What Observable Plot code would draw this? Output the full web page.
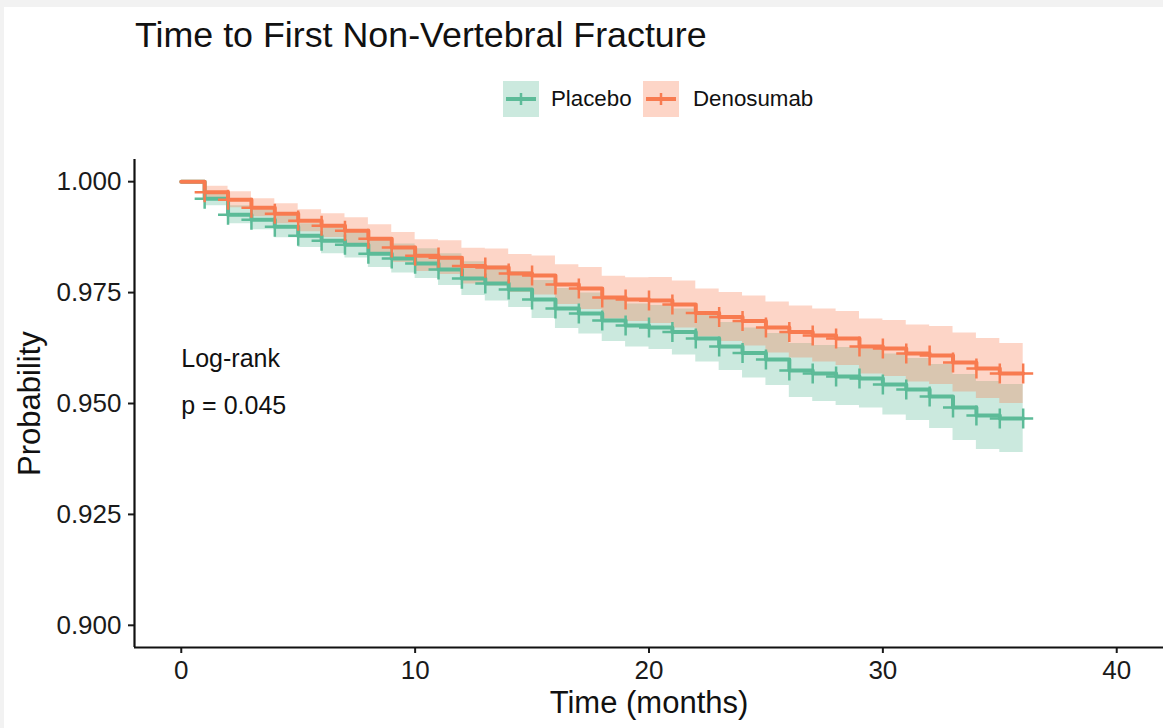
<!DOCTYPE html>
<html>
<head>
<meta charset="utf-8">
<script src="https://cdn.jsdelivr.net/npm/d3@7"></script>
<script src="https://cdn.jsdelivr.net/npm/@observablehq/plot@0.6"></script>
<style>
  html, body { margin:0; padding:0; background:#f2f2f2; width:1163px; height:728px; overflow:hidden;
    font-family:"Liberation Sans", Arial, Helvetica, sans-serif; }
  #panel { position:absolute; left:4px; top:7px; width:1159px; height:721px; background:#fff; }
  #title { position:absolute; left:135px; top:17px; font-size:35.8px; line-height:36px; color:#111; white-space:nowrap; }
  .key { position:absolute; top:81px; width:36px; height:36px; }
  .lab { position:absolute; top:81px; height:36px; line-height:36px; font-size:22.3px; color:#111; white-space:nowrap; }
  #chart { position:absolute; left:0; top:130px; }
</style>
</head>
<body>
<div id="panel"></div>
<div id="title"></div>
<div id="legend"></div>
<div id="chart"></div>
<script>
// ---------------- data ----------------
const titleText = "Time to First Non-Vertebral Fracture";
const groups = ["Placebo", "Denosumab"];
const groupColors = ["#5cbb98", "#f87b50"];
const xTicks = [0, 10, 20, 30, 40];
const yTicks = [0.900, 0.925, 0.950, 0.975, 1.000];
const xLabel = "Time (months)";
const yLabel = "Probability";

const months = [0,1,2,3,4,5,6,7,8,9,10,11,12,13,14,15,16,17,18,19,20,21,22,23,24,25,26,27,28,29,30,31,32,33,34,35,36];

const placeboSurv = [1.00000,0.99617,0.99257,0.99144,0.98986,0.98784,0.98671,0.98581,0.98378,0.98266,
  0.98153,0.98018,0.97815,0.97703,0.97568,0.97342,0.97140,0.97027,0.96869,0.96757,
  0.96712,0.96610,0.96464,0.96284,0.96137,0.95991,0.95743,0.95676,0.95608,0.95563,
  0.95428,0.95315,0.95158,0.94910,0.94730,0.94662,0.94662];
const placeboUpper = [1.00000,0.99775,0.99460,0.99369,0.99234,0.99054,0.98964,0.98885,0.98693,0.98593,
  0.98491,0.98378,0.98198,0.98097,0.97973,0.97770,0.97590,0.97489,0.97342,0.97241,
  0.97207,0.97128,0.96993,0.96825,0.96700,0.96577,0.96351,0.96307,0.96261,0.96227,
  0.96115,0.96013,0.95879,0.95653,0.95496,0.95428,0.95428];
const placeboLower = [1.00000,0.99459,0.99054,0.98919,0.98738,0.98514,0.98378,0.98277,0.98063,0.97939,
  0.97815,0.97658,0.97432,0.97309,0.97163,0.96914,0.96690,0.96565,0.96396,0.96273,
  0.96217,0.96092,0.95935,0.95743,0.95574,0.95405,0.95135,0.95045,0.94955,0.94899,
  0.94741,0.94617,0.94437,0.94167,0.93964,0.93896,0.93896];

const denosumabSurv = [1.00000,0.99764,0.99595,0.99414,0.99279,0.99122,0.99009,0.98896,0.98716,0.98514,
  0.98333,0.98288,0.98097,0.98063,0.97928,0.97883,0.97680,0.97590,0.97387,0.97342,
  0.97320,0.97230,0.97038,0.96948,0.96858,0.96712,0.96610,0.96532,0.96464,0.96284,
  0.96239,0.96126,0.96081,0.95923,0.95788,0.95676,0.95676];
const denosumabUpper = [1.00000,0.99899,0.99775,0.99617,0.99504,0.99370,0.99279,0.99189,0.99031,0.98852,
  0.98693,0.98671,0.98502,0.98480,0.98356,0.98322,0.98130,0.98063,0.97871,0.97837,
  0.97838,0.97759,0.97579,0.97500,0.97421,0.97286,0.97196,0.97129,0.97072,0.96903,
  0.96870,0.96768,0.96734,0.96587,0.96464,0.96352,0.96352];
const denosumabLower = [1.00000,0.99629,0.99415,0.99211,0.99054,0.98874,0.98739,0.98603,0.98401,0.98176,
  0.97973,0.97905,0.97692,0.97646,0.97500,0.97444,0.97230,0.97117,0.96903,0.96847,
  0.96802,0.96701,0.96497,0.96396,0.96295,0.96138,0.96024,0.95935,0.95856,0.95665,
  0.95608,0.95484,0.95428,0.95259,0.95112,0.95000,0.95000];

const placeboCensor = [1,2,3,4,5,6,7,8,9,10,11,12,13,14,15,16,17,18,19,20,21,22,23,24,25,26,27,28,29,30,31,32,33,34,35,36];
const denosumabCensor = [1,2,3,4,5,6,7,8,9,10,11,12,13,14,15,16,17,18,19,20,21,22,23,24,25,26,27,28,29,30,31,32,33,34,35,36];

const annoLabels = ["Log-rank", "p = 0.045"];
const annoX = [0, 0];
const annoY = [0.9601, 0.9495];

// ---------------- build tables ----------------
const survRows = [];
const series = [
  [groups[0], placeboSurv, placeboLower, placeboUpper, placeboCensor],
  [groups[1], denosumabSurv, denosumabLower, denosumabUpper, denosumabCensor]
];
const censorRows = [];
for (const [g, s, lo, hi, cens] of series) {
  months.forEach((t, i) => survRows.push({group: g, t, s: s[i], lo: lo[i], hi: hi[i]}));
  cens.forEach(t => censorRows.push({group: g, t, s: s[months.indexOf(t)]}));
}
const annos = annoLabels.map((label, i) => ({label, x: annoX[i], y: annoY[i]}));

// ---------------- title & legend ----------------
document.getElementById("title").textContent = titleText;
const legend = document.getElementById("legend");
const keyLefts = [503, 643];
const labLefts = [551, 693];
groups.forEach((g, i) => {
  const k = document.createElement("div");
  k.className = "key";
  k.style.left = keyLefts[i] + "px";
  k.innerHTML = `<svg width="36" height="36"><rect width="36" height="36" fill="${groupColors[i]}" fill-opacity="0.32"/>
    <line x1="3" x2="33" y1="18" y2="18" stroke="${groupColors[i]}" stroke-width="4"/>
    <line x1="18" x2="18" y1="12" y2="24" stroke="${groupColors[i]}" stroke-width="2.5"/></svg>`;
  legend.appendChild(k);
  const l = document.createElement("div");
  l.className = "lab";
  l.style.left = labLefts[i] + "px";
  l.textContent = g;
  legend.appendChild(l);
});

// ---------------- plot ----------------
const chart = Plot.plot({
  width: 1163,
  height: 598,
  marginTop: 29,
  marginBottom: 81,
  marginLeft: 134,
  marginRight: 0,
  style: {fontFamily: '"Liberation Sans", Arial, Helvetica, sans-serif', color: "#1a1a1a", background: "transparent"},
  x: {domain: [-2, 42]},
  y: {domain: [0.895, 1.005]},
  color: {domain: groups, range: groupColors},
  marks: [
    Plot.areaY(survRows, {x: "t", y1: "lo", y2: "hi", z: "group", fill: "group", fillOpacity: 0.32, curve: "step-after"}),
    Plot.line(survRows, {x: "t", y: "s", z: "group", stroke: "group", strokeWidth: 4, curve: "step-after"}),
    Plot.dot(censorRows, {x: "t", y: "s", stroke: "group", symbol: "plus", r: 6.5, strokeWidth: 2.5}),
    Plot.text(annos, {x: "x", y: "y", text: "label", textAnchor: "start", fontSize: 25, fill: "#111"}),
    Plot.axisX({ticks: xTicks, tickSize: 6, tickPadding: 7, fontSize: 26, label: null, strokeWidth: 2}),
    Plot.axisY({ticks: yTicks, tickSize: 6, tickPadding: 7, fontSize: 26, label: null, strokeWidth: 2, tickFormat: d3.format(".3f")}),
    Plot.ruleX([-2], {stroke: "#111", strokeWidth: 2.2}),
    Plot.ruleY([0.895], {stroke: "#111", strokeWidth: 2.2}),
    Plot.text([xLabel], {frameAnchor: "bottom", dy: 56, fontSize: 31, textAnchor: "middle", lineAnchor: "middle", fill: "#111"}),
    Plot.text([yLabel], {frameAnchor: "left", dx: -104, rotate: -90, fontSize: 31, textAnchor: "middle", lineAnchor: "middle", fill: "#111"})
  ]
});
document.getElementById("chart").appendChild(chart);
</script>
</body>
</html>
